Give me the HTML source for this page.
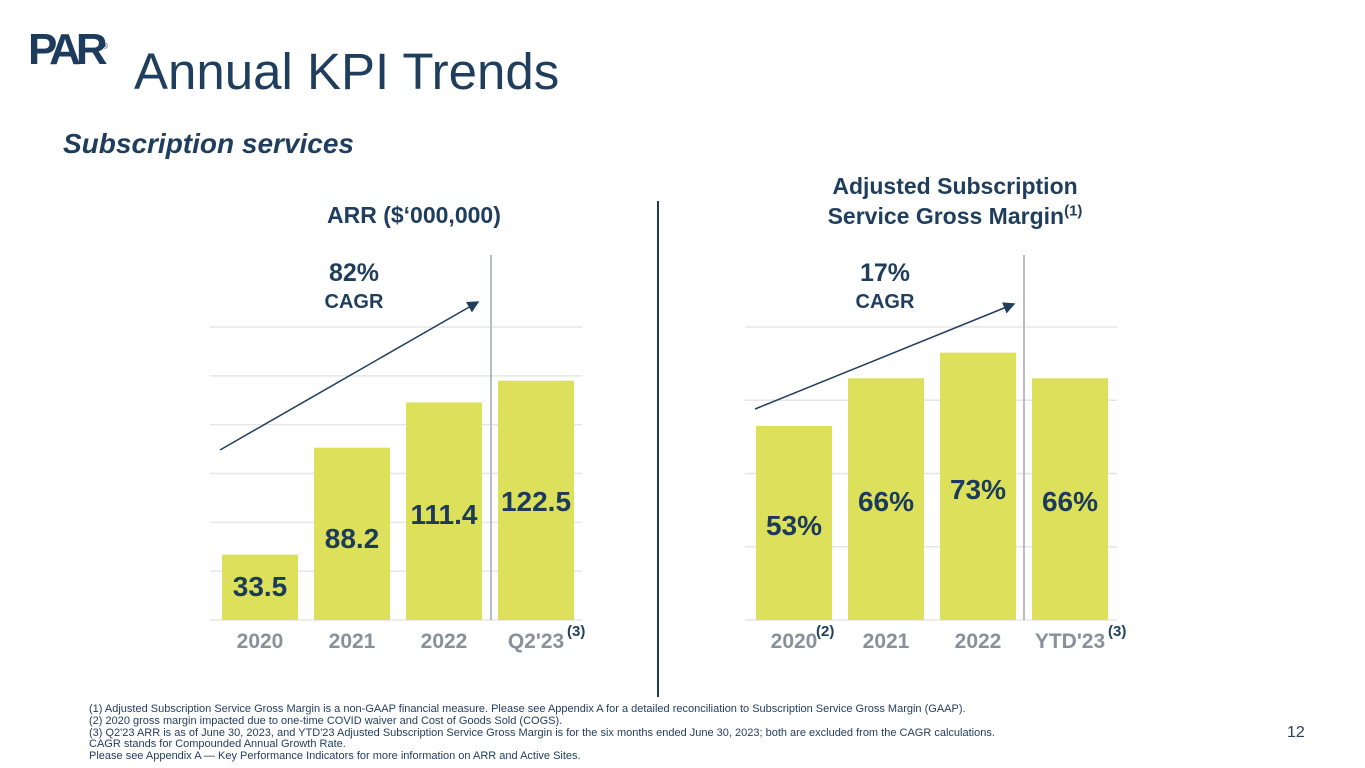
<!DOCTYPE html>
<html><head><meta charset="utf-8"><style>
body{margin:0;width:1365px;height:768px;background:#fff;font-family:"Liberation Sans",sans-serif;overflow:hidden;position:relative;color:#1f3b5c}
.a{position:absolute;white-space:nowrap}
sup{line-height:0}
</style></head><body>
<div class="a" style="left:28px;top:25px;font-size:44px;font-weight:900;letter-spacing:-5px;color:#1d3b5c">PAR<sup style="font-size:7px;letter-spacing:0">®</sup></div>
<div class="a" style="left:134px;top:42px;font-size:51px;color:#1f3d5c">Annual KPI Trends</div>
<div class="a" style="left:63px;top:128px;font-size:28px;font-weight:bold;font-style:italic;color:#1f3d5c">Subscription services</div>
<div class="a" style="left:327px;top:202px;font-size:23px;font-weight:bold;color:#1f3d5c">ARR ($‘000,000)</div>
<div class="a" style="left:790px;top:171px;width:330px;text-align:center;font-size:23px;font-weight:bold;line-height:30px;color:#1f3d5c">Adjusted Subscription<br>Service Gross Margin<sup style="font-size:15px">(1)</sup></div>
<div class="a" style="left:657px;top:201px;width:2px;height:496px;background:#1f3d5c"></div>
<svg id="svg" class="a" style="left:0;top:0" width="1365" height="768"></svg>
<div class="a" style="left:89px;top:704px;font-size:11px;line-height:11.8px;color:#1f3b5c">(1) Adjusted Subscription Service Gross Margin is a non-GAAP financial measure. Please see Appendix A for a detailed reconciliation to Subscription Service Gross Margin (GAAP).<br>(2) 2020 gross margin impacted due to one-time COVID waiver and Cost of Goods Sold (COGS).<br>(3) Q2'23 ARR is as of June 30, 2023, and YTD'23 Adjusted Subscription Service Gross Margin is for the six months ended June 30, 2023; both are excluded from the CAGR calculations.<br>CAGR stands for Compounded Annual Growth Rate.<br>Please see Appendix A — Key Performance Indicators for more information on ARR and Active Sites.</div>
<div class="a" style="left:1287px;top:724px;font-size:16px;color:#1f3d5c">12</div>
<script>
const arrCategories=["2020","2021","2022","Q2'23"];
const arrValues=[33.5,88.2,111.4,122.5];
const arrLabels=["33.5","88.2","111.4","122.5"];
const gmCategories=["2020","2021","2022","YTD'23"];
const gmValues=[53,66,73,66];
const gmLabels=["53%","66%","73%","66%"];
const arrCagr="82%";
const gmCagr="17%";
const arrLabelBaseline=[596,548,524,511];
const gmLabelBaseline=[535,511,499,511];
const NS="http://www.w3.org/2000/svg";
const svg=document.getElementById('svg');
function mk(t,at,txt){const e=document.createElementNS(NS,t);for(const k in at)e.setAttribute(k,at[k]);if(txt!==undefined)e.textContent=txt;svg.appendChild(e);return e;}
function chart(cfg){
  const y=v=>620-(v/cfg.max)*293;
  for(let g=0;g<=cfg.max;g+=cfg.step){const l=mk('line',{x1:cfg.gx0,x2:cfg.gx1,y1:y(g),y2:y(g),stroke:'#e6e6e6','stroke-width':1.5});
    
    }
  const sep=mk('line',{x1:cfg.sepX,x2:cfg.sepX,y1:255,y2:620,stroke:'#b8bcc4','stroke-width':2});
  
  
  cfg.vals.forEach((v,i)=>{
    const x=cfg.x0+i*cfg.pitch;
    const r=mk('rect',{x:x,y:y(v),width:76,height:620-y(v),fill:'#dce05b'});
    
    
    const t=mk('text',{x:x+38,y:cfg.lb[i],'text-anchor':'middle','font-size':28,'font-weight':'bold',fill:'#1c3a5a'},cfg.labels[i]);
    
    
    const c=mk('text',{x:x+38,y:648,'text-anchor':'middle','font-size':21,'font-weight':'bold',fill:'#8a8f99'},cfg.cats[i]);
    
    
  });
  cfg.sups.forEach(s=>{const t=mk('text',{x:s[0],y:636,'font-size':15,'font-weight':'bold',fill:'#1f3d5c'},s[1]);
    
    });
  const a=mk('line',{x1:cfg.ar[0],y1:cfg.ar[1],x2:cfg.ar[2],y2:cfg.ar[3],stroke:'#1f3d5c','stroke-width':1.5,'marker-end':'url(#ah)'});
  
  
  const p=mk('text',{x:cfg.cx,y:281,'text-anchor':'middle','font-size':25,'font-weight':'bold',fill:'#1f3d5c'},cfg.cagr);
  
  
  const q=mk('text',{x:cfg.cx,y:308,'text-anchor':'middle','font-size':20,'font-weight':'bold',fill:'#1f3d5c'},'CAGR');
  
  
}
const d=mk('defs',{});d.innerHTML='<marker id="ah" markerWidth="8" markerHeight="8" refX="7" refY="4" orient="auto"><path d="M0,0 L8,4 L0,8 z" fill="#1f3d5c"/></marker>';
chart({cats:arrCategories,vals:arrValues,labels:arrLabels,lb:arrLabelBaseline,max:150,step:25,gx0:210,gx1:582,x0:222,pitch:92,sepX:491,
  sups:[[567,"(3)"]],ar:[220,450,478,302],cx:354,cagr:arrCagr});
chart({cats:gmCategories,vals:gmValues,labels:gmLabels,lb:gmLabelBaseline,max:80,step:20,gx0:745,gx1:1117,x0:756,pitch:92,sepX:1024,
  sups:[[816,"(2)"],[1108,"(3)"]],ar:[755,409,1014,304],cx:885,cagr:gmCagr});
</script>
</body></html>
